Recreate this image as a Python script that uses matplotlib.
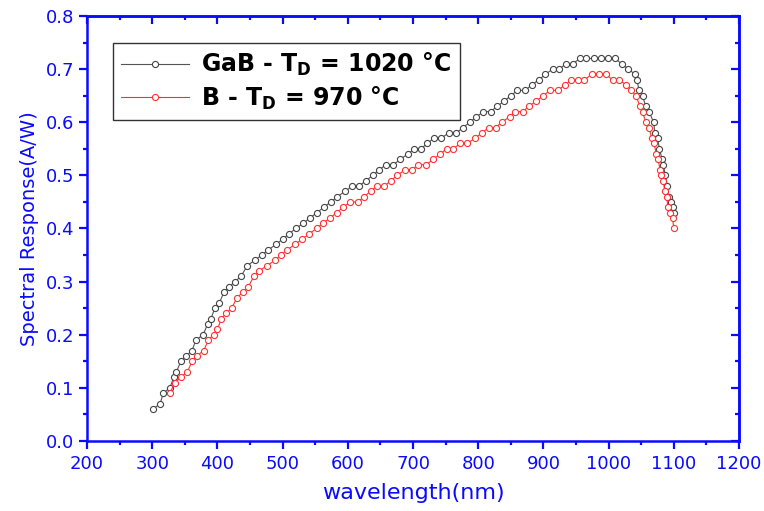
import matplotlib
matplotlib.use("Agg")
import matplotlib.pyplot as plt
from matplotlib.ticker import MultipleLocator

# GaB sample, T_D = 1020 C
gab_wl = [301, 312, 317, 327, 333, 337, 344, 352, 361, 367, 378, 385, 390, 396,
          403, 410, 418, 427, 436, 446, 457, 468, 478, 490, 500, 510, 520, 532,
          542, 553, 563, 574, 584, 596, 607, 617, 628, 638, 648, 658, 670, 680,
          692, 702, 712, 722, 732, 743, 755, 766, 777, 787, 797, 808, 819, 829,
          840, 850, 860, 872, 882, 893, 903, 914, 924, 935, 945, 956, 966, 977,
          988, 999, 1010, 1020, 1030, 1041, 1043, 1047, 1052, 1057, 1062, 1069,
          1071, 1075, 1078, 1082, 1084, 1087, 1090, 1092, 1095, 1098, 1100]
gab_sr = [0.06, 0.07, 0.09, 0.10, 0.12, 0.13, 0.15, 0.16, 0.17, 0.19, 0.20, 0.22,
          0.23, 0.25, 0.26, 0.28, 0.29, 0.30, 0.31, 0.33, 0.34, 0.35, 0.36, 0.37,
          0.38, 0.39, 0.40, 0.41, 0.42, 0.43, 0.44, 0.45, 0.46, 0.47, 0.48, 0.48,
          0.49, 0.50, 0.51, 0.52, 0.52, 0.53, 0.54, 0.55, 0.55, 0.56, 0.57, 0.57,
          0.58, 0.58, 0.59, 0.60, 0.61, 0.62, 0.62, 0.63, 0.64, 0.65, 0.66, 0.66,
          0.67, 0.68, 0.69, 0.70, 0.70, 0.71, 0.71, 0.72, 0.72, 0.72, 0.72, 0.72,
          0.72, 0.71, 0.70, 0.69, 0.68, 0.66, 0.65, 0.63, 0.62, 0.60, 0.58, 0.57,
          0.55, 0.53, 0.52, 0.50, 0.48, 0.46, 0.45, 0.44, 0.43]

# B sample, T_D = 970 C
b_wl = [327, 335, 344, 354, 361, 368, 379, 386, 394, 400, 406, 413, 422, 430,
        439, 447, 456, 464, 476, 488, 497, 507, 519, 530, 541, 552, 562, 573,
        583, 593, 604, 615, 625, 635, 645, 656, 666, 676, 687, 698, 708, 720,
        731, 741, 752, 762, 772, 783, 795, 806, 816, 827, 836, 848, 857, 868,
        878, 889, 900, 910, 922, 933, 943, 953, 963, 974, 985, 996, 1006, 1016,
        1027, 1035, 1042, 1048, 1052, 1057, 1062, 1066, 1070, 1073, 1076, 1079,
        1081, 1084, 1086, 1089, 1091, 1094, 1098, 1100]
b_sr = [0.09, 0.11, 0.12, 0.13, 0.15, 0.16, 0.17, 0.19, 0.20, 0.21, 0.23, 0.24,
        0.25, 0.27, 0.28, 0.29, 0.31, 0.32, 0.33, 0.34, 0.35, 0.36, 0.37, 0.38,
        0.39, 0.40, 0.41, 0.42, 0.43, 0.44, 0.45, 0.45, 0.46, 0.47, 0.48, 0.48,
        0.49, 0.50, 0.51, 0.51, 0.52, 0.52, 0.53, 0.54, 0.55, 0.55, 0.56, 0.56,
        0.57, 0.58, 0.59, 0.59, 0.60, 0.61, 0.62, 0.62, 0.63, 0.64, 0.65, 0.66,
        0.66, 0.67, 0.68, 0.68, 0.68, 0.69, 0.69, 0.69, 0.68, 0.68, 0.67, 0.66,
        0.65, 0.63, 0.62, 0.60, 0.59, 0.57, 0.56, 0.54, 0.53, 0.51, 0.50, 0.49,
        0.47, 0.46, 0.44, 0.43, 0.42, 0.40]

labels = [r"GaB - T$_\mathbf{D}$ = 1020 °C", r"B - T$_\mathbf{D}$ = 970 °C"]

blue = "#0a0aff"
plt.rcParams["font.family"] = "DejaVu Sans"
plt.rcParams["mathtext.fontset"] = "dejavusans"

fig = plt.figure(figsize=(7.64, 5.11), dpi=100)
ax = fig.add_axes([0.1139, 0.137, 0.8534, 0.8317])

ax.plot(gab_wl, gab_sr, color="#555555", lw=0.8, marker="o", ms=4.4,
        mfc="white", mec="#444444", mew=0.8, label=labels[0])
ax.plot(b_wl, b_sr, color="#ff3030", lw=0.8, marker="o", ms=4.4,
        mfc="white", mec="#ff3030", mew=0.8, label=labels[1])

ax.set_xlim(200, 1200)
ax.set_ylim(0.0, 0.8)
ax.xaxis.set_major_locator(MultipleLocator(100))
ax.xaxis.set_minor_locator(MultipleLocator(50))
ax.yaxis.set_major_locator(MultipleLocator(0.1))
ax.yaxis.set_minor_locator(MultipleLocator(0.05))
ax.yaxis.set_major_formatter(plt.FormatStrFormatter("%.1f"))

for s in ax.spines.values():
    s.set_color(blue)
    s.set_linewidth(1.8)
ax.tick_params(which="both", direction="out", colors=blue, width=1.6,
               labelsize=13)
ax.tick_params(axis="x", pad=4)
ax.tick_params(axis="y", pad=3)
ax.tick_params(which="major", length=6)
ax.tick_params(which="minor", length=3)

# inward ticks on top and right, like Origin
top = ax.secondary_xaxis("top")
right = ax.secondary_yaxis("right")
for sec in (top, right):
    sec.tick_params(which="both", direction="in", colors=blue, width=1.6,
                    labelleft=False, labelright=False, labeltop=False,
                    labelbottom=False)
    sec.tick_params(which="major", length=6)
    sec.tick_params(which="minor", length=3)
    for s in sec.spines.values():
        s.set_color(blue)
        s.set_linewidth(1.8)
top.xaxis.set_major_locator(MultipleLocator(100))
top.xaxis.set_minor_locator(MultipleLocator(50))
right.yaxis.set_major_locator(MultipleLocator(0.1))
right.yaxis.set_minor_locator(MultipleLocator(0.05))

ax.set_xlabel("wavelength(nm)", color=blue, fontsize=16, labelpad=7)
ax.set_ylabel("Spectral Response(A/W)", color=blue, fontsize=14, labelpad=5)

leg = ax.legend(loc="upper left", bbox_to_anchor=(0.0394, 0.9365),
                borderaxespad=0, fancybox=False, edgecolor="black",
                numpoints=1, handlelength=2.9, handletextpad=0.5,
                labelspacing=0.25, borderpad=0.35,
                prop={"weight": "bold", "size": 17})
leg.get_frame().set_linewidth(1.0)

fig.savefig("out.png", dpi=100)
